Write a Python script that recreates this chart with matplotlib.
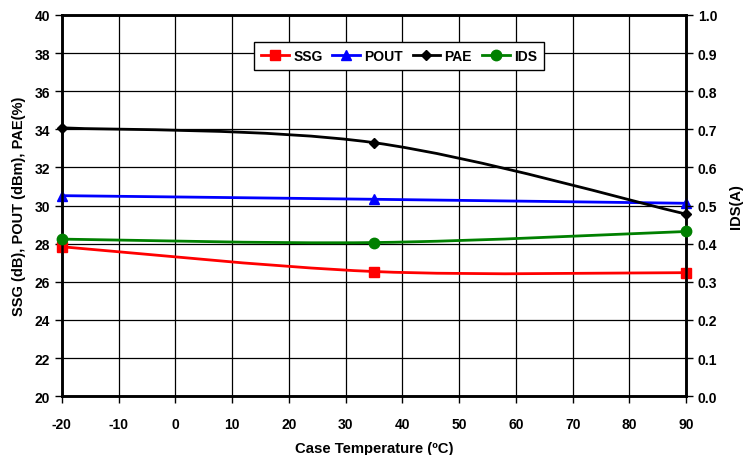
import numpy as np
import matplotlib.pyplot as plt
from matplotlib.path import Path
from matplotlib.patches import PathPatch

plt.rcParams['font.family'] = ['Liberation Sans', 'DejaVu Sans']
plt.rcParams['font.weight'] = 'bold'
plt.rcParams['axes.unicode_minus'] = False

temp = [-20, 35, 90]
ssg = [27.84, 26.54, 26.48]
pout = [30.52, 30.33, 30.12]
pae = [34.08, 33.3, 29.55]
ids = [0.412, 0.403, 0.432]


def smooth_path(xs, ys):
    # excel-style smoothed line (catmull-rom -> cubic bezier)
    p = np.column_stack([xs, ys]).astype(float)
    pp = np.vstack([p[0], p, p[-1]])
    verts = [p[0]]
    codes = [Path.MOVETO]
    for i in range(len(p) - 1):
        c1 = pp[i + 1] + (pp[i + 2] - pp[i]) / 6
        c2 = pp[i + 2] - (pp[i + 3] - pp[i + 1]) / 6
        verts += [c1, c2, pp[i + 2]]
        codes += [Path.CURVE4] * 3
    return Path(verts, codes)


fig, ax = plt.subplots(figsize=(7.54, 4.56), dpi=100)
fig.subplots_adjust(left=0.082, right=0.91, top=0.965, bottom=0.129)
ax2 = ax.twinx()

ax.set_xlim(-20, 90)
ax.set_ylim(20, 40)
ax2.set_ylim(0, 1.0)
ax.set_xticks(np.arange(-20, 91, 10))
ax.set_yticks(np.arange(20, 41, 2))
ax2.set_yticks(np.arange(0, 1.01, 0.1))
ax2.set_yticklabels(['%.1f' % v for v in np.arange(0, 1.01, 0.1)])
ax.grid(True, color='black', lw=0.9)
ax.set_axisbelow(True)

series = [(ax, ssg, 'red', 's', 7, 'SSG'),
          (ax, pout, 'blue', '^', 7.5, 'POUT'),
          (ax, pae, 'black', 'D', 5.5, 'PAE'),
          (ax2, ids, 'green', 'o', 7.5, 'IDS')]
handles = []
for a, vals, col, mk, ms, lab in series:
    a.add_patch(PathPatch(smooth_path(temp, vals), fc='none', ec=col, lw=2, zorder=3))
    h, = a.plot(temp, vals, ls='none', marker=mk, color=col, ms=ms, zorder=4, clip_on=False)
    handles.append(plt.Line2D([], [], color=col, lw=2, marker=mk, ms=ms, label=lab))

for a in (ax, ax2):
    for s in a.spines.values():
        s.set_linewidth(1.8)
    a.tick_params(labelsize=10, width=1, length=5)
ax.tick_params(axis='x', pad=10)

ax.set_xlabel('Case Temperature (ºC)', fontsize=10.7, fontweight='bold', labelpad=7)
ax.set_ylabel('SSG (dB), POUT (dBm), PAE(%)', fontsize=10.5, fontweight='bold', labelpad=6)
ax2.set_ylabel('IDS(A)', fontsize=10.5, fontweight='bold', labelpad=8)

leg = ax2.legend(handles=handles, ncol=4, loc='upper center', bbox_to_anchor=(0.54, 0.948),
                 fontsize=10, frameon=True, fancybox=False, handlelength=2.0,
                 columnspacing=0.7, handletextpad=0.3, borderpad=0.5)
leg.get_frame().set_edgecolor('black')
leg.get_frame().set_linewidth(1)
leg.get_frame().set_alpha(1)

fig.savefig('out.png', dpi=100)
